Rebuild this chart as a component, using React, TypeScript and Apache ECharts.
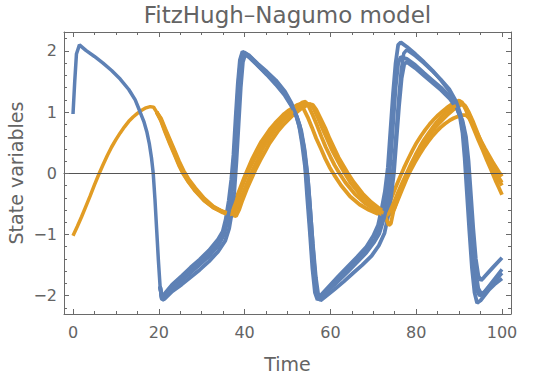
import React, { useEffect, useRef } from 'react';
import * as echarts from 'echarts';

const TIME_TICKS = [0, 20, 40, 60, 80, 100];
const TIME_MINOR = [5, 10, 15, 25, 30, 35, 45, 50, 55, 65, 70, 75, 85, 90, 95];
const STATE_TICKS = [-2, -1, 0, 1, 2];
const STATE_MINOR = [-2.2, -1.8, -1.6, -1.4, -1.2, -0.8, -0.6, -0.4, -0.2, 0.2, 0.4, 0.6, 0.8, 1.2, 1.4, 1.6, 1.8, 2.2];

// v (fast variable), trajectory A (full run)
const blueA: number[][] = [
  [0, 0.97], [0.4, 1.5], [0.8, 1.95], [1.5, 2.1], [3, 2.01], [5, 1.91], [7, 1.8], [9, 1.68], [11, 1.54], [13, 1.37],
  [14.5, 1.2], [15.6, 1.01], [16.5, 0.85], [17.2, 0.68], [17.8, 0.48], [18.3, 0.25], [18.7, 0], [19.1, -0.42], [19.5, -0.92],
  [19.9, -1.42], [20.3, -1.85], [20.7, -2.05], [21.2, -2.02], [23.1, -1.88], [25.3, -1.76], [27.4, -1.63], [29.5, -1.5],
  [31.7, -1.36], [33.8, -1.19], [35.2, -1.01], [35.9, -0.82], [36.6, -0.52], [37.2, -0.18], [37.7, 0.2], [38.2, 0.78],
  [38.7, 1.38], [39.2, 1.83], [39.9, 1.98], [41, 1.92], [43.1, 1.78], [45.2, 1.64], [47.3, 1.49], [49.4, 1.31], [51, 1.12],
  [52.1, 0.95], [52.9, 0.78], [53.8, 0.45], [54.4, 0.12], [54.8, -0.1], [55.2, -0.45], [55.7, -0.95], [56.3, -1.52],
  [56.8, -1.92], [57.3, -2.07], [58.1, -2.02], [59.8, -1.9], [61.9, -1.76], [64.1, -1.61], [66.2, -1.46], [68.4, -1.3],
  [70.1, -1.14], [71.4, -0.99], [72.5, -0.74], [73.3, -0.5], [74.1, -0.2], [74.8, 0.2], [75.3, 0.65], [75.9, 1.2],
  [76.5, 1.68], [77.1, 1.96], [77.8, 2.02], [79.8, 1.92], [81.8, 1.8], [83.8, 1.67], [85.8, 1.53], [87.8, 1.37],
  [89.3, 1.18], [90.3, 0.98], [91.1, 0.74], [91.7, 0.4], [92.2, 0], [92.7, -0.52], [93.3, -1.12], [93.9, -1.6],
  [94.5, -1.88], [95.2, -1.97], [96, -1.93], [98, -1.75], [100, -1.57],
];

// w (slow variable), trajectory A (full run)
const orangeA: number[][] = [
  [0, -1.02], [1, -0.87], [2, -0.71], [3, -0.54], [4, -0.37], [5, -0.19], [6, -0.02], [7, 0.14], [8, 0.29], [9, 0.43],
  [10, 0.55], [11, 0.66], [12, 0.76], [13, 0.85], [14, 0.92], [15, 0.98], [16, 1.03], [17, 1.07], [18, 1.09], [18.8, 1.08],
  [19.5, 1.0], [20.5, 0.88], [21.5, 0.71], [22.6, 0.53], [23.7, 0.35], [24.7, 0.18], [25.8, 0.02], [26.9, -0.11],
  [28.5, -0.27], [30.6, -0.43], [32.7, -0.55], [34.9, -0.62], [36.5, -0.66], [37.4, -0.67], [38.1, -0.58], [38.9, -0.44],
  [39.9, -0.27], [40.9, -0.1], [41.9, 0.06], [43, 0.22], [44, 0.37], [45.1, 0.5], [46.2, 0.62], [47.2, 0.72], [48.3, 0.81],
  [49.3, 0.89], [50.4, 0.96], [51.5, 1.02], [52.5, 1.07], [53.6, 1.11], [54.5, 1.14], [55.3, 1.13], [56.1, 1.05],
  [57.1, 0.9], [58.1, 0.73], [59.2, 0.56], [60.2, 0.4], [61.3, 0.25], [62.4, 0.11], [63.5, -0.02], [64.6, -0.15],
  [66.8, -0.34], [68.8, -0.47], [70.5, -0.56], [72, -0.63], [73.3, -0.69], [74, -0.6], [74.8, -0.47], [75.8, -0.3],
  [76.8, -0.14], [77.8, 0.01], [78.8, 0.16], [79.8, 0.3], [80.8, 0.43], [81.8, 0.55], [82.8, 0.65], [83.8, 0.75],
  [84.8, 0.84], [85.8, 0.92], [86.8, 0.99], [87.8, 1.05], [88.8, 1.09], [89.8, 1.12], [90.7, 1.14], [91.5, 1.1],
  [92.3, 1.0], [93.2, 0.86], [94.1, 0.7], [95, 0.54], [96, 0.38], [97, 0.23], [98, 0.09], [99, -0.04], [100, -0.15],
];

// trajectory B (diverges after the first spike)
const blueB: number[][] = [
  [20.3, -1.85], [20.7, -2.05], [21.2, -1.98], [23.1, -1.82], [25.3, -1.68], [27.4, -1.54], [29.5, -1.41], [31.7, -1.26],
  [33.8, -1.08], [34.9, -0.95], [35.6, -0.75], [36.3, -0.45], [36.9, -0.1], [37.4, 0.3], [37.9, 0.9], [38.4, 1.45],
  [38.9, 1.85], [39.5, 1.99], [41, 1.93], [43.1, 1.79], [45.2, 1.66], [47.3, 1.52], [49.4, 1.34], [50.9, 1.15], [51.9, 0.98],
  [52.7, 0.78], [53.4, 0.48], [54.1, 0.1], [54.6, -0.4], [55.2, -0.95], [55.8, -1.55], [56.4, -1.95], [57, -2.07],
  [57.7, -2.0], [59.8, -1.84], [61.9, -1.68], [64.1, -1.52], [66.2, -1.37], [68.4, -1.2], [70, -1.02], [71.1, -0.85],
  [71.9, -0.6], [72.7, -0.3], [73.4, 0.1], [74, 0.7], [74.6, 1.3], [75.2, 1.8], [75.8, 2.1], [76.4, 2.14], [77.8, 2.07],
  [79.8, 1.95], [81.8, 1.82], [83.8, 1.68], [85.8, 1.52], [87.8, 1.34], [89.3, 1.12], [90.2, 0.92], [90.8, 0.66],
  [91.3, 0.25], [91.8, -0.3], [92.4, -0.95], [93, -1.55], [93.6, -1.95], [94.2, -2.12], [95, -2.08], [97, -1.9],
  [98.5, -1.8], [100, -1.72],
];

const orangeB: number[][] = [
  [19.5, 1.0], [20.5, 0.86], [21.5, 0.67], [22.6, 0.48], [23.7, 0.3], [24.7, 0.13], [25.8, -0.02], [26.9, -0.14],
  [28.5, -0.29], [30.6, -0.45], [32.7, -0.56], [34.9, -0.63], [36.3, -0.66], [37, -0.6], [37.8, -0.45], [38.8, -0.27],
  [39.8, -0.09], [40.8, 0.08], [41.8, 0.24], [42.9, 0.39], [43.9, 0.52], [45, 0.63], [46, 0.73], [47.1, 0.82], [48.2, 0.9],
  [49.2, 0.97], [50.3, 1.03], [51.4, 1.08], [52.3, 1.12], [53, 1.13], [53.7, 1.06], [54.7, 0.92], [55.7, 0.75],
  [56.7, 0.57], [57.8, 0.4], [58.8, 0.24], [59.8, 0.1], [60.9, -0.03], [62.5, -0.2], [64.6, -0.38], [66.8, -0.51],
  [69, -0.6], [71, -0.66], [72.4, -0.68], [73.2, -0.58], [74.1, -0.43], [75.1, -0.25], [76.1, -0.08], [77.1, 0.08],
  [78.1, 0.23], [79.1, 0.37], [80.1, 0.5], [81.1, 0.61], [82.1, 0.71], [83.1, 0.8], [84.1, 0.88], [85.1, 0.95],
  [86.1, 1.01], [87.1, 1.07], [88.1, 1.12], [89.1, 1.16], [90, 1.19], [90.7, 1.16], [91.5, 1.05], [92.5, 0.88],
  [93.5, 0.71], [94.5, 0.54], [95.5, 0.38], [96.5, 0.21], [97.5, 0.05], [98.5, -0.12], [99.3, -0.24], [100, -0.35],
];

// trajectory C
const blueC: number[][] = [
  [20.3, -1.85], [20.8, -2.07], [21.4, -2.05], [23.1, -1.93], [25.3, -1.82], [27.4, -1.7], [29.5, -1.58], [31.7, -1.44],
  [33.8, -1.28], [35.5, -1.1], [36.4, -0.9], [37, -0.65], [37.6, -0.3], [38.1, 0.2], [38.6, 0.8], [39.1, 1.4], [39.6, 1.82],
  [40.2, 1.95], [41.6, 1.88], [43.1, 1.76], [45.2, 1.61], [47.3, 1.45], [49.4, 1.27], [51.1, 1.08], [52.3, 0.9],
  [53.2, 0.7], [54, 0.38], [54.7, -0.05], [55.3, -0.6], [55.9, -1.15], [56.6, -1.7], [57.2, -2.0], [57.7, -2.08],
  [58.8, -2.02], [60.9, -1.9], [63.1, -1.77], [65.3, -1.63], [67.4, -1.5], [69.6, -1.35], [71.3, -1.18], [72.6, -0.98],
  [73.4, -0.72], [74.1, -0.4], [74.8, 0.0], [75.4, 0.55], [76, 1.1], [76.6, 1.55], [77.2, 1.78], [77.8, 1.82],
  [79.8, 1.72], [81.8, 1.6], [83.8, 1.48], [85.8, 1.36], [87.8, 1.22], [89.6, 1.05], [90.8, 0.86], [91.6, 0.6],
  [92.2, 0.2], [92.7, -0.3], [93.3, -0.9], [93.9, -1.4], [94.5, -1.68], [95.1, -1.75], [95.8, -1.7], [98, -1.53],
  [100, -1.38],
];

const orangeC: number[][] = [
  [19.5, 1.0], [20.5, 0.9], [21.5, 0.73], [22.6, 0.55], [23.7, 0.37], [24.7, 0.2], [25.8, 0.04], [26.9, -0.09],
  [28.5, -0.24], [30.6, -0.41], [32.7, -0.54], [34.9, -0.63], [37, -0.68], [38, -0.7], [38.7, -0.6], [39.5, -0.44],
  [40.5, -0.26], [41.6, -0.09], [42.6, 0.07], [43.7, 0.22], [44.8, 0.36], [45.8, 0.49], [46.9, 0.6], [47.9, 0.7],
  [49, 0.79], [50.1, 0.87], [51.1, 0.94], [52.2, 1.0], [53.2, 1.06], [54.2, 1.1], [55.2, 1.13], [55.9, 1.12],
  [56.7, 1.04], [57.7, 0.9], [58.8, 0.74], [59.8, 0.57], [60.9, 0.41], [61.9, 0.26], [63, 0.13], [64, 0.01],
  [65.5, -0.15], [67.5, -0.33], [69.5, -0.47], [71.5, -0.58], [73, -0.64], [74.2, -0.68], [74.9, -0.58], [75.7, -0.44],
  [76.7, -0.27], [77.7, -0.1], [78.7, 0.05], [79.7, 0.18], [80.7, 0.3], [81.7, 0.41], [82.7, 0.51], [83.7, 0.6],
  [84.7, 0.68], [85.7, 0.75], [86.7, 0.81], [87.7, 0.86], [88.7, 0.9], [89.7, 0.93], [90.7, 0.95], [91.6, 0.95],
  [92.4, 0.9], [93.3, 0.79], [94.2, 0.66], [95.1, 0.53], [96, 0.41], [96.9, 0.3], [97.8, 0.19], [98.6, 0.1],
  [99.3, 0.02], [100, -0.05],
];

// trajectory D
const blueD: number[][] = [
  [20.3, -1.85], [20.7, -2.06], [21.3, -2.0], [23.1, -1.85], [25.3, -1.72], [27.4, -1.58], [29.5, -1.45], [31.7, -1.3],
  [33.8, -1.13], [35.1, -0.98], [35.9, -0.78], [36.6, -0.45], [37.2, -0.05], [37.7, 0.45], [38.2, 1.05], [38.7, 1.6],
  [39.2, 1.9], [39.8, 1.96], [41, 1.9], [43.1, 1.76], [45.2, 1.62], [47.3, 1.47], [49.4, 1.29], [51, 1.1], [52.1, 0.92],
  [53, 0.7], [53.8, 0.38], [54.4, -0.05], [55, -0.6], [55.6, -1.2], [56.2, -1.7], [56.8, -2.0], [57.3, -2.06], [58.1, -2.0],
  [59.8, -1.87], [61.9, -1.72], [64.1, -1.57], [66.2, -1.42], [68.4, -1.26], [70.4, -1.08], [71.7, -0.88], [72.6, -0.6],
  [73.4, -0.25], [74, 0.2], [74.6, 0.8], [75.2, 1.4], [75.8, 1.8], [76.4, 1.9], [77.8, 1.87], [79.8, 1.77], [81.8, 1.64],
  [83.8, 1.52], [85.8, 1.4], [87.8, 1.26], [89.4, 1.08], [90.5, 0.88], [91.3, 0.55], [91.9, 0.1], [92.4, -0.45],
  [93, -1.05], [93.6, -1.6], [94.2, -1.92], [94.8, -2.0], [95.8, -1.95], [98, -1.78], [100, -1.63],
];

const orangeD: number[][] = [
  [19.5, 1.0], [20.5, 0.87], [21.5, 0.69], [22.6, 0.5], [23.7, 0.32], [24.7, 0.15], [25.8, -0.01], [26.9, -0.13],
  [28.5, -0.28], [30.6, -0.44], [32.7, -0.56], [34.9, -0.64], [36.5, -0.68], [37.2, -0.62], [38, -0.47], [39, -0.29],
  [40, -0.11], [41, 0.05], [42.1, 0.21], [43.2, 0.36], [44.2, 0.49], [45.3, 0.6], [46.4, 0.7], [47.4, 0.8], [48.5, 0.88],
  [49.6, 0.95], [50.6, 1.01], [51.7, 1.07], [52.7, 1.12], [53.5, 1.16], [54.2, 1.17], [54.9, 1.1], [55.9, 0.95],
  [56.9, 0.78], [57.9, 0.6], [58.9, 0.43], [60, 0.27], [61, 0.13], [62.1, 0.0], [63.5, -0.15], [65.7, -0.34],
  [67.9, -0.48], [70.2, -0.59], [72, -0.67], [72.9, -0.72], [73.6, -0.85], [74.1, -0.82], [74.7, -0.62], [75.5, -0.45],
  [76.5, -0.27], [77.5, -0.1], [78.5, 0.06], [79.5, 0.2], [80.5, 0.33], [81.5, 0.45], [82.5, 0.56], [83.5, 0.66],
  [84.5, 0.75], [85.5, 0.83], [86.5, 0.9], [87.5, 0.97], [88.5, 1.03], [89.5, 1.08], [90.4, 1.12], [91, 1.13],
  [91.7, 1.06], [92.6, 0.92], [93.5, 0.76], [94.4, 0.6], [95.3, 0.45], [96.2, 0.31], [97.1, 0.17], [98, 0.05],
  [99, -0.08], [100, -0.2],
];

const PATHS = [
  { v: blueB, w: orangeB, width: 3.8 },
  { v: blueC, w: orangeC, width: 3.8 },
  { v: blueD, w: orangeD, width: 3.8 },
  { v: blueA, w: orangeA, width: 3.5 },
];

const BLUE = '#5E81B5';
const ORANGE = '#E19C24';
const FRAME = '#6a6a6a';
const TEXT = '#646464';
const FONT = 'DejaVu Sans';
const X_MIN = -2.1;
const X_MAX = 102.1;
const Y_MIN = -2.3;
const Y_MAX = 2.31;

const fmt = (v: number) => String(v).replace('-', '\u2212');

export default function App() {
  const ref = useRef<HTMLDivElement>(null);
  useEffect(() => {
    document.body.style.margin = '0';
    const chart = echarts.init(ref.current!, null, { renderer: 'svg' });

    const xBase = (pos: 'top' | 'bottom', ticks: number[], len: number, labels: boolean, line: boolean) => ({
      type: 'value',
      position: pos,
      min: X_MIN,
      max: X_MAX,
      z: 10,
      splitLine: { show: false },
      axisLine: { show: line, onZero: false, lineStyle: { color: FRAME, width: 1 } },
      axisTick: { show: true, inside: true, length: len, customValues: ticks, lineStyle: { color: FRAME, width: 1 } },
      axisLabel: labels
        ? { show: true, customValues: ticks, margin: 10, color: TEXT, fontSize: 16, fontFamily: FONT, formatter: fmt }
        : { show: false },
    });
    const yBase = (pos: 'left' | 'right', ticks: number[], len: number, labels: boolean, line: boolean) => ({
      type: 'value',
      position: pos,
      min: Y_MIN,
      max: Y_MAX,
      z: 10,
      splitLine: { show: false },
      axisLine: { show: line, onZero: false, lineStyle: { color: FRAME, width: 1 } },
      axisTick: { show: true, inside: true, length: len, customValues: ticks, lineStyle: { color: FRAME, width: 1 } },
      axisLabel: labels
        ? { show: true, customValues: ticks, margin: 7, color: TEXT, fontSize: 16, fontFamily: FONT, formatter: fmt }
        : { show: false },
    });

    const series: any[] = [];
    PATHS.forEach((p, i) => {
      series.push({
        type: 'line', name: 'w' + i, data: p.w, showSymbol: false, symbol: 'none',
        lineStyle: { color: ORANGE, width: p.width }, itemStyle: { color: ORANGE }, silent: true, z: 3,
      });
      series.push({
        type: 'line', name: 'v' + i, data: p.v, showSymbol: false, symbol: 'none',
        lineStyle: { color: BLUE, width: p.width }, itemStyle: { color: BLUE }, silent: true, z: 3,
      });
    });

    chart.setOption({
      animation: false,
      backgroundColor: '#ffffff',
      grid: { left: 64, right: 23, top: 32, bottom: 64, containLabel: false, outerBoundsMode: 'none' },
      xAxis: [
        xBase('bottom', TIME_TICKS, 5, true, true),
        xBase('bottom', TIME_MINOR, 3, false, false),
        xBase('top', TIME_TICKS, 5, false, true),
        xBase('top', TIME_MINOR, 3, false, false),
        {
          type: 'value', min: X_MIN, max: X_MAX, position: 'bottom', z: 10,
          splitLine: { show: false }, axisTick: { show: false }, axisLabel: { show: false },
          axisLine: { show: true, onZero: true, lineStyle: { color: '#555555', width: 1 } },
        },
      ],
      yAxis: [
        yBase('left', STATE_TICKS, 5, true, true),
        yBase('left', STATE_MINOR, 3, false, false),
        yBase('right', STATE_TICKS, 5, false, true),
        yBase('right', STATE_MINOR, 3, false, false),
      ],
      series,
      graphic: [
        {
          type: 'text', x: 287.5, y: 15,
          style: { text: 'FitzHugh\u2013Nagumo model', align: 'center', verticalAlign: 'middle', fill: TEXT, fontSize: 23, fontFamily: FONT },
        },
        {
          type: 'text', x: 287.5, y: 364,
          style: { text: 'Time', align: 'center', verticalAlign: 'middle', fill: TEXT, fontSize: 19, fontFamily: FONT },
        },
        {
          type: 'text', x: 16, y: 173, rotation: Math.PI / 2,
          style: { text: 'State variables', align: 'center', verticalAlign: 'middle', fill: TEXT, fontSize: 19, fontFamily: FONT },
        },
      ],
    });
    return () => chart.dispose();
  }, []);
  return <div ref={ref} style={{ width: 534, height: 378 }} />;
}
